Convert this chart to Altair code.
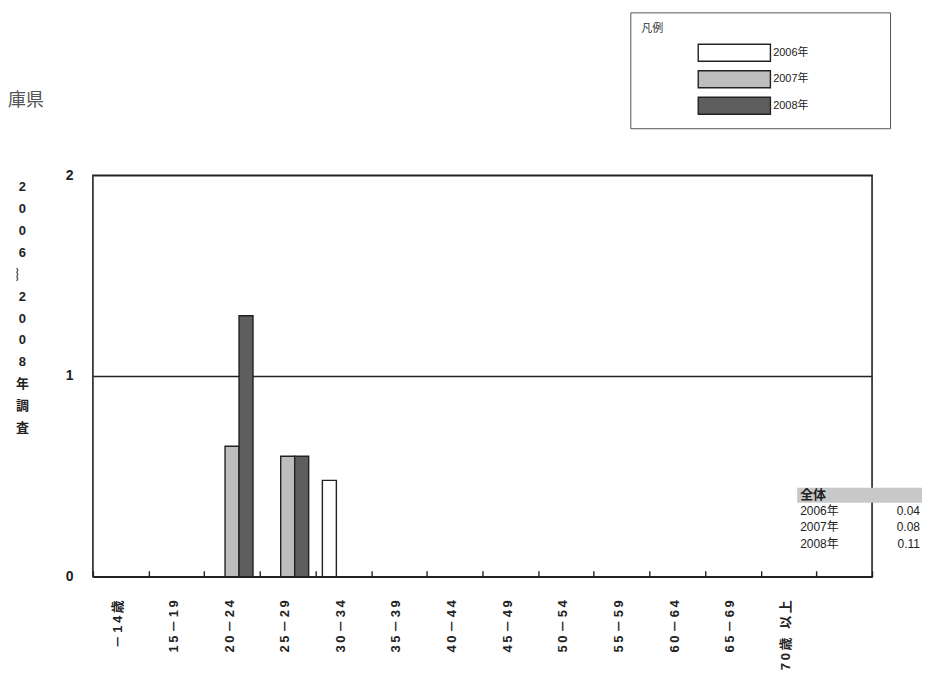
import altair as alt
import pandas as pd

# ---- data ----
categories = ["－14歳", "15－19", "20－24", "25－29", "30－34", "35－39", "40－44",
              "45－49", "50－54", "55－59", "60－64", "65－69", "70歳 以上"]
years = ["2006年", "2007年", "2008年"]
v2006 = [0, 0, 0, 0, 0.48, 0, 0, 0, 0, 0, 0, 0, 0]
v2007 = [0, 0, 0.65, 0.60, 0, 0, 0, 0, 0, 0, 0, 0, 0]
v2008 = [0, 0, 1.30, 0.60, 0, 0, 0, 0, 0, 0, 0, 0, 0]
y_ticks = [0, 1, 2]
y_title = ["2", "0", "0", "6", "︴", "2", "0", "0", "8", "年", "調", "査"]
page_title = "庫県"
table_header = "全体"
overall_years = ["2006年", "2007年", "2008年"]
overall_values = [0.04, 0.08, 0.11]
bar_colors = ["#ffffff", "#bdbdbd", "#5e5e5e"]

rows = []
for yr, vals in zip(years, [v2006, v2007, v2008]):
    for c, v in zip(categories, vals):
        rows.append({"category": c, "year": yr, "value": v})
df = pd.DataFrame(rows)

LATIN = "Liberation Sans, DejaVu Sans, Noto Sans CJK JP"

# wide legend swatch; the trailing lone move-to widens the legend frame
swatch_path = "M-1,-1H7.5V1H-1ZM19.9,0"

bars = alt.Chart(df).transform_filter("datum.value > 0").mark_bar(
    stroke="#222", strokeWidth=1.4
).encode(
    x=alt.X("category:N",
            scale=alt.Scale(domain=categories + [""], paddingInner=0, paddingOuter=0),
            axis=alt.Axis(title=None, labelAngle=270, labelAlign="right", labelBaseline="middle",
                          labelFont=LATIN, labelFontSize=13, labelFontWeight="bold",
                          labelColor="#222", labelPadding=23, labelOffset=-3,
                          labelExpr="join(split(datum.label, ''), '\u2009')",
                          labelOverlap=False, labelBound=False, labelFlush=False,
                          domain=False, offset=-6, tickSize=6, tickColor="#222",
                          tickWidth=1.4, tickBand="extent")),
    xOffset=alt.XOffset("year:N", scale=alt.Scale(domain=years, paddingInner=0, paddingOuter=0.49)),
    y=alt.Y("value:Q", scale=alt.Scale(domain=[0, 2], nice=False),
            axis=alt.Axis(values=y_ticks, labelExpr="'' + datum.value",
                          grid=True, gridColor="#222", gridWidth=1.5,
                          ticks=False, tickSize=0, domain=False, labelOverlap=False,
                          labelFont=LATIN, labelFontSize=14, labelFontWeight="bold",
                          labelColor="#222", labelPadding=20,
                          title=y_title, titleAngle=0, titleX=-71, titleY=5,
                          titleBaseline="top", titleAlign="center", titleLineHeight=22,
                          titleFont="Liberation Sans, Noto Sans CJK JP", titleFontSize=13,
                          titleFontWeight="bold", titleColor="#222")),
    fill=alt.Fill("year:N", scale=alt.Scale(domain=years, range=bar_colors),
                  legend=alt.Legend(orient="none", legendX=538, legendY=-163,
                                    title="凡例", titleOrient="top", titleAnchor="start",
                                    titleFontSize=11, titleFontWeight="normal",
                                    titleFont="Noto Sans CJK JP", titleColor="#333",
                                    titlePadding=9,
                                    symbolType=swatch_path, symbolSize=289,
                                    symbolOffset=56,
                                    symbolStrokeColor="#222", symbolStrokeWidth=1.4,
                                    labelFont=LATIN, labelFontSize=11, labelColor="#222",
                                    labelOffset=57, rowPadding=3.5, padding=11,
                                    strokeColor="#555", fillColor="white")),
)

# ---- page title fragment at the upper left ----
title_df = pd.DataFrame({"t": [page_title]})
title_text = alt.Chart(title_df).mark_text(
    align="left", baseline="middle", font="Noto Sans CJK JP", fontSize=18, color="#555"
).encode(x=alt.value(-85), y=alt.value(-74), text="t:N")

# ---- overall table at the lower right ----
tdf = pd.DataFrame({"row": overall_years,
                    "val": [f"{v:.2f}" for v in overall_values]})
hdf = pd.DataFrame({"row": [table_header]})
row_scale = alt.Scale(type="point", domain=[table_header] + overall_years,
                      range=[320, 369], padding=0)

header_bg = alt.Chart(hdf).mark_rect(fill="#c8c8c8").encode(
    x=alt.value(705), x2=alt.value(840), y=alt.value(313), y2=alt.value(328))

header_text = alt.Chart(hdf).mark_text(
    align="left", baseline="middle", font=LATIN, fontSize=13, fontWeight="bold", color="#222"
).encode(
    x=alt.value(708),
    y=alt.Y("row:N", scale=row_scale, axis=None),
    text="row:N",
)

row_labels = alt.Chart(tdf).mark_text(
    align="left", baseline="middle", font=LATIN, fontSize=12, color="#222"
).encode(
    x=alt.value(708),
    y=alt.Y("row:N", scale=row_scale, axis=None),
    text="row:N",
)

row_values = alt.Chart(tdf).mark_text(
    align="right", baseline="middle", font=LATIN, fontSize=12, color="#222"
).encode(
    x=alt.value(828),
    y=alt.Y("row:N", scale=row_scale, axis=None),
    text="val:N",
)

chart = alt.layer(bars, title_text, header_bg, header_text, row_labels, row_values).resolve_scale(
    y="independent"
).properties(
    width=780, height=402,
    autosize=alt.AutoSizeParams(type="none"),
    padding={"left": 85, "top": 167, "right": 50, "bottom": 96},
).configure_view(stroke="#222", strokeWidth=1.6)

chart.save("out.html", embed_options={"renderer": "svg", "actions": False})
